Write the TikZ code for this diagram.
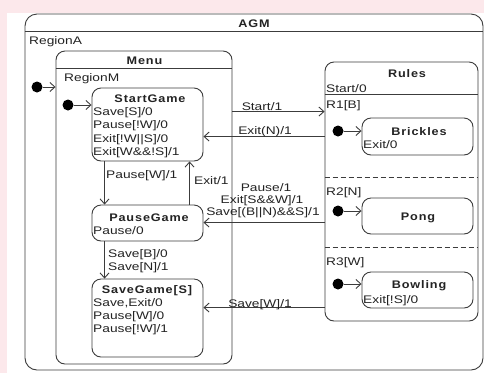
\documentclass[tikz,border=0pt]{standalone}
\usepackage{fontspec}
\setmainfont{Liberation Sans}[FakeStretch=1.25]
\newfontfamily\ttlfont{Liberation Sans}[FakeStretch=1.15,LetterSpace=8]
\usetikzlibrary{arrows.meta,calc}
\definecolor{pagepink}{RGB}{252,232,235}
\definecolor{ink}{RGB}{35,35,35}
\definecolor{edge}{RGB}{60,60,60}
\begin{document}
\begin{tikzpicture}[x=1pt,y=-1pt,
  lbl/.style={font=\fontsize{11}{13}\selectfont, text=ink, inner sep=0pt, text height=8pt, text depth=0pt},
  lw/.style={lbl, anchor=west},
  ttl/.style={lbl, font=\ttlfont\bfseries\fontsize{11}{13}\selectfont},
  box/.style={draw=edge, line width=0.9pt, rounded corners=9pt, inner sep=0pt},
  sep/.style={draw=edge, line width=0.9pt},
  tr/.style={draw=edge, line width=0.9pt, -{Straight Barb[length=5pt,width=9pt]}},
  dot/.style={circle, fill=black, inner sep=0pt, minimum size=11pt}]

% page
\fill[pagepink] (0,0) rectangle (484,373);
\fill[white] (7,13) rectangle (484,373);
\useasboundingbox (0,0) rectangle (484,373);

% outer machine
\node[box, rounded corners=12pt, minimum width=458, minimum height=356] (agm) at (254,192) {};
\draw[sep] ($(agm.north west)+(0,18)$) -- ($(agm.north east)+(0,18)$);
\node[ttl] (agmT) at (254,23) {AGM};
\node[lw] (regA) at (29,40) {RegionA};

% Menu composite state
\node[box, minimum width=176, minimum height=313] (menu) at (144,207.5) {};
\draw[sep] ($(menu.north west)+(0,18)$) -- ($(menu.north east)+(0,18)$);
\node[ttl] (menuT) at (144.5,60) {Menu};
\node[lw] (regM) at (64,77) {RegionM};

% Menu substates
\node[box, minimum width=111, minimum height=73] (startgame) at (147.5,124.5) {};
\node[ttl] (sgT) at (150,98) {StartGame};
\node[lw] (sg1) at (93,111) {Save[S]/0};
\node[lw] (sg2) at (93,124.5) {Pause[!W]/0};
\node[lw] (sg3) at (93,138) {Exit[!W||S]/0};
\node[lw] (sg4) at (93,151.5) {Exit[W\&\&!S]/1};

\node[box, minimum width=111, minimum height=36] (pausegame) at (147.5,223) {};
\node[ttl] (pgT) at (149,217) {PauseGame};
\node[lw] (pg1) at (93,230) {Pause/0};

\node[box, minimum width=111, minimum height=78] (savegame) at (147.5,318) {};
\node[ttl] (svT) at (147,289) {SaveGame[S]};
\node[lw] (sv1) at (93,302) {Save,Exit/0};
\node[lw] (sv2) at (93,315) {Pause[W]/0};
\node[lw] (sv3) at (93,328) {Pause[!W]/1};

% Rules orthogonal state
\node[box, minimum width=153, minimum height=259] (rules) at (401.5,191.5) {};
\node[ttl] (ruT) at (407,73) {Rules};
\node[lw] (ru0) at (326,88) {Start/0};
\draw[sep] ($(rules.north west)+(0,33)$) -- ($(rules.north east)+(0,33)$);
\draw[sep, dash pattern=on 5pt off 3pt] ($(rules.north west)+(0,116)$) -- ($(rules.north east)+(0,116)$);
\draw[sep, dash pattern=on 5pt off 3pt] ($(rules.north west)+(0,186)$) -- ($(rules.north east)+(0,186)$);
\node[lw] (r1) at (326,104) {R1[B]};
\node[lw] (r2) at (326,191) {R2[N]};
\node[lw] (r3) at (326,261) {R3[W]};

\node[box, minimum width=111, minimum height=37] (brickles) at (417.5,136.5) {};
\node[ttl] (brT) at (419,131) {Brickles};
\node[lw] (br1) at (363,144) {Exit/0};

\node[box, minimum width=111, minimum height=36] (pong) at (417.5,216) {};
\node[ttl] (poT) at (418,216) {Pong};

\node[box, minimum width=111, minimum height=36] (bowling) at (417.5,290) {};
\node[ttl] (boT) at (419,284) {Bowling};
\node[lw] (bo1) at (363,299) {Exit[!S]/0};

% initial pseudostates
\node[dot] (i0) at (37,87) {};
\node[dot] (i1) at (68,105) {};
\node[dot] (i2) at (338,131) {};
\node[dot] (i3) at (338,211) {};
\node[dot] (i4) at (338,284) {};
\draw[tr] (i0) -- (i0 -| menu.west);
\draw[tr] (i1) -- (i1 -| startgame.west);
\draw[tr] (i2) -- (i2 -| brickles.west);
\draw[tr] (i3) -- (i3 -| pong.west);
\draw[tr] (i4) -- (i4 -| bowling.west);

% transitions inside Menu
\draw[tr] ($(startgame.south west)+(13,0)$) -- ($(pausegame.north west)+(13,0)$);
\node[lw] (t1) at (106,174) {Pause[W]/1};
\draw[tr] ($(pausegame.north west)+(98,0)$) -- ($(startgame.south west)+(98,0)$);
\node[lw] (t2) at (194,180) {Exit/1};
\draw[tr] ($(pausegame.south west)+(13,0)$) -- ($(savegame.north west)+(13,0)$);
\node[lw] (t3a) at (108,253) {Save[B]/0};
\node[lw] (t3b) at (108,266) {Save[N]/1};

% transitions between Menu and Rules
\draw[tr] ($(menu.north east)+(0,61)$) -- ($(rules.north west)+(0,50)$);
\node[lbl] (t4) at (262,106) {Start/1};
\draw[tr] ($(rules.north west)+(0,75)$) -- ($(startgame.north east)+(0,49)$);
\node[lbl] (t5) at (265,130) {Exit(N)/1};
\draw[tr] ($(rules.north west)+(0,161)$) -- ($(pausegame.north east)+(0,18)$);
\node[lbl] (t6a) at (266,187) {Pause/1};
\node[lbl] (t6b) at (262,199) {Exit[S\&\&W]/1};
\node[lbl] (t6c) at (263,211) {Save[(B||N)\&\&S]/1};
\draw[tr] ($(rules.north west)+(0,246)$) -- ($(savegame.north east)+(0,29)$);
\node[lbl] (t7) at (260,303) {Save[W]/1};
\end{tikzpicture}
\end{document}
